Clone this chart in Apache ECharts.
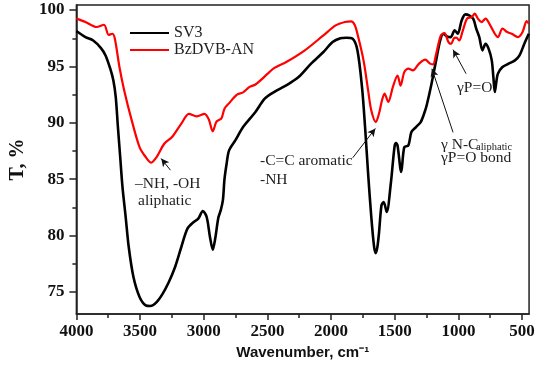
<!DOCTYPE html>
<html>
<head>
<meta charset="utf-8">
<script src="https://cdn.jsdelivr.net/npm/echarts@6/dist/echarts.min.js"></script>
<style>html,body{margin:0;padding:0;background:#fff;}#c{width:550px;height:366px;}</style>
</head>
<body>
<div id="c"></div>
<script>
// Wavenumber (cm-1) and transmittance (%)
const sv3Wn = [4000,3929,3868,3807,3771,3734,3710,3691,3674,3656,3638,3613,3589,3552,3504,3456,3419,3370,3322,3274,3225,3176,3128,3079,3043,3007,2977,2951,2929,2910,2885,2865,2849,2837,2820,2801,2752,2691,2594,2521,2448,2352,2255,2157,2060,1988,1927,1880,1830,1793,1757,1733,1709,1684,1662,1648,1636,1624,1604,1587,1563,1531,1502,1490,1478,1449,1425,1393,1369,1333,1296,1265,1248,1211,1175,1143,1119,1090,1061,1029,1005,974,945,916,884,860,836,811,787,763,738,725,714,700,690,654,605,556,520,483,447];
const sv3T  = [98.14,97.6,97.3,96.63,95.98,94.8,93.77,92.29,89.63,86.97,84.3,81.65,78.99,76.33,74.56,73.82,73.76,74.11,74.86,75.89,77.22,78.99,80.62,81.21,81.5,82.18,81.65,79.88,78.76,79.73,81.6,82.3,83.2,85.0,86.4,87.56,88.45,89.63,90.96,92.14,92.73,93.32,94.06,95.25,96.28,97.16,97.5,97.55,97.46,96.43,93.17,89.63,85.5,81.65,79.0,78.45,79.0,80.18,82.69,82.98,82.1,84.6,87.85,88.2,88.0,85.64,87.85,88.0,89.18,89.63,90.07,90.96,91.6,93.47,95.54,97.3,97.9,97.66,97.6,98.2,97.9,99.09,99.62,99.53,99.24,98.35,97.6,96.43,97.0,96.58,95.54,94.0,92.73,93.8,94.36,94.95,95.25,95.54,95.98,97.0,97.9];

const bzWn = [4000,3929,3843,3783,3747,3718,3698,3662,3625,3565,3504,3456,3412,3370,3310,3249,3176,3116,3055,2994,2960,2929,2900,2861,2837,2800,2739,2691,2643,2594,2497,2448,2352,2206,2060,1964,1891,1842,1815,1793,1745,1709,1684,1648,1624,1600,1580,1551,1515,1478,1454,1425,1393,1357,1309,1260,1223,1199,1175,1138,1110,1078,1058,1035,1017,993,969,932,896,872,847,818,787,750,714,690,654,617,581,532,496,464,447];
const bzT  = [99.24,98.94,98.5,98.7,97.8,97.9,97.46,94.95,92.9,90.2,87.85,86.97,86.47,86.97,88.15,88.74,89.93,90.8,90.58,90.8,90.3,89.25,90.1,90.4,91.26,91.75,92.5,92.7,93.17,93.4,94.36,94.85,95.39,96.43,97.76,98.64,98.94,99.0,98.7,97.9,95.54,92.88,91.1,90.07,90.8,92.0,92.6,91.85,93.17,94.2,93.3,94.5,94.8,94.65,95.25,95.6,95.25,95.19,96.1,97.76,97.95,97.16,97.0,97.5,97.55,97.3,98.05,99.24,99.38,99.68,99.24,98.94,99.24,98.64,97.9,97.6,98.35,98.05,97.9,97.6,98.05,99.03,98.8];

const xMajor = [4000,3500,3000,2500,2000,1500,1000,500];
const xMinor = [3750,3250,2750,2250,1750,1250,750];
const yMajor = [75,80,85,90,95,100];
const yMinor = [77.5,82.5,87.5,92.5,97.5];

// annotation arrows [tailWn, tailT, headWn, headT]
const arrows = [
  [3261,85.8,3334,86.83],
  [1830,86.9,1652,89.5],
  [1042,89.15,1208,94.8],
  [940,94.36,1042,96.49]
];

const pair = (a,b)=>a.map((v,i)=>[v,b[i]]);
const serif = '"Liberation Serif","Times New Roman",serif';
const sans = '"Liberation Sans",Arial,sans-serif';
const X0 = 445, X1 = 4000, Y0 = 73.05, Y1 = 100.45;
const plain = v => String(v);

const chart = echarts.init(document.getElementById('c'), null, {renderer:'canvas'});
chart.setOption({
  animation:false,
  backgroundColor:'#fff',
  grid:{left:54,right:8,top:5,bottom:52,show:true,borderColor:'#222',borderWidth:1.5,backgroundColor:'transparent'},
  legend:{
    orient:'vertical', left:129, top:25, padding:0, itemWidth:39, itemHeight:14, itemGap:1,
    itemStyle:{opacity:0},
    textStyle:{fontFamily:serif,fontSize:16,color:'#222',lineHeight:14},
    data:['SV3','BzDVB-AN']
  },
  xAxis:[{
    type:'value', min:X0, max:X1, inverse:true,
    name:'Wavenumber, cm\u207B\u00B9', nameLocation:'middle', nameGap:31,
    nameTextStyle:{fontFamily:sans,fontWeight:'bold',fontSize:15,color:'#111'},
    axisLine:{show:true,onZero:false,lineStyle:{color:'#222',width:1.5}},
    axisTick:{show:true,inside:false,length:6,customValues:xMajor,lineStyle:{color:'#222',width:1.5}},
    axisLabel:{show:true,customValues:xMajor,formatter:plain,margin:9,fontFamily:serif,fontWeight:'bold',fontSize:17,color:'#111'},
    splitLine:{show:false}
  },{
    type:'value', min:X0, max:X1, inverse:true, position:'bottom',
    axisLine:{show:false},
    axisTick:{show:true,length:4,customValues:xMinor,lineStyle:{color:'#222',width:1.5}},
    axisLabel:{show:false}, splitLine:{show:false}
  }],
  yAxis:[{
    type:'value', min:Y0, max:Y1,
    name:'T, %', nameLocation:'middle', nameGap:38,
    nameTextStyle:{fontFamily:serif,fontWeight:'bold',fontSize:20,color:'#111'},
    axisLine:{show:true,onZero:false,lineStyle:{color:'#222',width:1.5}},
    axisTick:{show:true,inside:false,length:7,customValues:yMajor,lineStyle:{color:'#222',width:1.5}},
    axisLabel:{show:true,customValues:yMajor,formatter:plain,margin:12,fontFamily:serif,fontWeight:'bold',fontSize:17,color:'#111'},
    splitLine:{show:false}
  },{
    type:'value', min:Y0, max:Y1, position:'left',
    axisLine:{show:false},
    axisTick:{show:true,length:4,customValues:yMinor,lineStyle:{color:'#222',width:1.5}},
    axisLabel:{show:false}, splitLine:{show:false}
  }],
  series:[{
    name:'SV3', type:'line', xAxisIndex:0, yAxisIndex:0,
    data:pair(sv3Wn,sv3T), showSymbol:false, symbol:'none', smooth:0.3,
    lineStyle:{color:'#000',width:2.6}, itemStyle:{color:'#000'}, z:3
  },{
    name:'BzDVB-AN', type:'line', xAxisIndex:0, yAxisIndex:0,
    data:pair(bzWn,bzT), showSymbol:false, symbol:'none', smooth:0.3,
    lineStyle:{color:'#ff0000',width:2.2}, itemStyle:{color:'#ff0000'}, z:4,
    markLine:{
      silent:true, symbol:['none','arrow'], symbolSize:[6,8],
      label:{show:false},
      lineStyle:{color:'#111',width:1,type:'solid'},
      emphasis:{disabled:true},
      data:arrows.map(a=>[{coord:[a[0],a[1]]},{coord:[a[2],a[3]]}])
    }
  }],
  graphic:[
    {type:'text',left:135,top:176,style:{text:'\u2013NH, -OH',fontFamily:serif,fontSize:15.5,fill:'#222'}},
    {type:'text',left:138,top:193,style:{text:'aliphatic',fontFamily:serif,fontSize:15.5,fill:'#222'}},
    {type:'text',left:260,top:153,style:{text:'-C=C aromatic',fontFamily:serif,fontSize:15.5,fill:'#222'}},
    {type:'text',left:260,top:172,style:{text:'-NH',fontFamily:serif,fontSize:15.5,fill:'#222'}},
    {type:'text',left:441,top:137,style:{text:'\u03B3 N-C',fontFamily:serif,fontSize:15.5,fill:'#222'}},
    {type:'text',left:476,top:142,style:{text:'aliphatic',fontFamily:serif,fontSize:10.5,fill:'#222'}},
    {type:'text',left:441,top:150,style:{text:'\u03B3P=O bond',fontFamily:serif,fontSize:15.5,fill:'#222'}},
    {type:'text',left:457,top:80,style:{text:'\u03B3P=O',fontFamily:serif,fontSize:15.5,fill:'#222'}}
  ]
});
</script>
</body>
</html>
